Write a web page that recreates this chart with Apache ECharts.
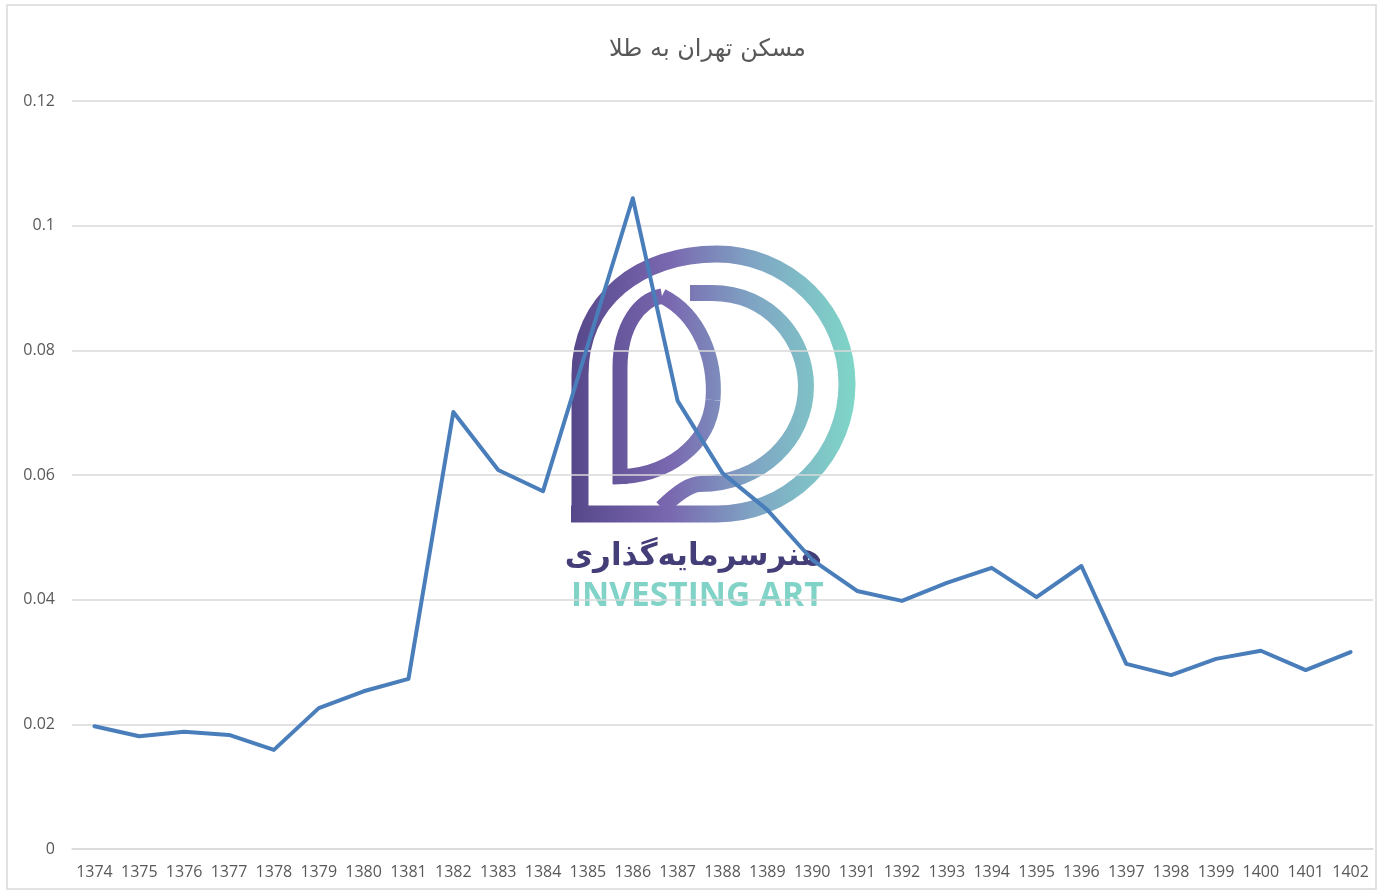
<!DOCTYPE html>
<html lang="fa">
<head>
  <meta charset="UTF-8">
  <title>مسکن تهران به طلا</title>
  <style>
    html, body { margin: 0; padding: 0; background: #fff; }
    #chart { width: 1379px; height: 892px; }
  </style>
  <script src="https://cdn.jsdelivr.net/npm/echarts@6/dist/echarts.min.js"></script>
</head>
<body>
  <div id="chart"></div>
  <script>
    // years (solar hijri) and ratio of Tehran housing price to gold
    const years = ['1374', '1375', '1376', '1377', '1378', '1379', '1380', '1381', '1382', '1383',
      '1384', '1385', '1386', '1387', '1388', '1389', '1390', '1391', '1392', '1393',
      '1394', '1395', '1396', '1397', '1398', '1399', '1400', '1401', '1402'];
    const ratio = [0.0197, 0.0181, 0.0188, 0.0183, 0.0159, 0.0226, 0.0253, 0.0273, 0.0701, 0.0608,
      0.0574, 0.0809, 0.1044, 0.0719, 0.0603, 0.0544, 0.0464, 0.0414, 0.0398, 0.0427,
      0.0451, 0.0404, 0.0454, 0.0297, 0.0279, 0.0305, 0.0318, 0.0287, 0.0316];
    const yTicks = [0, 0.02, 0.04, 0.06, 0.08, 0.1, 0.12];

    const chart = echarts.init(document.getElementById('chart'));

    // watermark logo gradient, in page coordinates so all pieces share it
    const logoGrad = {
      type: 'linear', x: 571, y: 0, x2: 855, y2: 0, global: true,
      colorStops: [
        { offset: 0, color: '#56478a' },
        { offset: 0.35, color: '#7a68b0' },
        { offset: 0.65, color: '#7fa6c4' },
        { offset: 1, color: '#7fd6c8' }
      ]
    };
    const stroke = w => ({ fill: null, stroke: logoGrad, lineWidth: w });
    const seg = (x1, y1, x2, y2, w) => ({ type: 'line', shape: { x1, y1, x2, y2 }, style: stroke(w) });
    const curve = (x1, y1, cpx1, cpy1, cpx2, cpy2, x2, y2, w) =>
      ({ type: 'bezierCurve', shape: { x1, y1, cpx1, cpy1, cpx2, cpy2, x2, y2 }, style: stroke(w) });

    const option = {
      backgroundColor: '#fff',
      title: {
        text: 'مسکن تهران به طلا',
        left: 604,
        top: 33,
        textStyle: { color: '#595959', fontSize: 24, fontWeight: 'normal', fontFamily: 'DejaVu Sans' }
      },
      grid: { left: 72, right: 6, top: 101, bottom: 43 },
      xAxis: {
        type: 'category',
        data: years,
        boundaryGap: true,
        axisLine: { show: true, lineStyle: { color: '#d9d9d9', width: 1.5 } },
        axisTick: { show: false },
        axisLabel: { color: '#595959', fontSize: 16, fontFamily: 'Open Sans', margin: 15, interval: 0 }
      },
      yAxis: {
        type: 'value',
        min: 0,
        max: 0.12,
        interval: 0.02,
        axisLine: { show: false },
        axisTick: { show: false },
        axisLabel: {
          color: '#595959', fontSize: 16, fontFamily: 'Open Sans', margin: 17,
          formatter: v => {
            const t = yTicks.find(k => Math.abs(k - v) < 1e-9);
            return String(t !== undefined ? t : v);
          }
        },
        splitLine: { lineStyle: { color: '#d9d9d9', width: 1.5 } }
      },
      series: [{
        type: 'line',
        data: ratio,
        symbol: 'none',
        z: 5,
        lineStyle: { color: '#4a7ebb', width: 4, join: 'round', cap: 'round' }
      }],
      graphic: [
        {
          type: 'rect', silent: true, z: -20,
          shape: { x: 7, y: 5, width: 1369, height: 884 },
          style: { fill: null, stroke: '#d9d9d9', lineWidth: 1.5 }
        },
        {
          type: 'group', silent: true, z: -10,
          children: [
            // outer dome + big ring
            seg(580, 522, 580, 375, 17),
            curve(580, 375, 580, 300, 640, 254, 717, 254, 17),
            {
              type: 'arc',
              shape: { cx: 717, cy: 384, r: 130, startAngle: -Math.PI / 2, endAngle: Math.PI / 2, clockwise: true },
              style: stroke(17)
            },
            seg(717, 514, 571, 514, 17),
            // inner left teardrop
            seg(620, 484, 620, 368, 15),
            curve(620, 368, 620, 325, 640, 300, 662, 296, 15),
            curve(662, 296, 700, 315, 716, 360, 713, 400, 15),
            curve(713, 400, 709, 445, 668, 477, 613, 477, 15),
            // middle arc
            seg(690, 293, 712, 293, 16),
            curve(712, 293, 770, 293, 806, 340, 806, 386, 16),
            curve(806, 386, 806, 440, 760, 484, 700, 484, 16),
            curve(700, 484, 690, 484, 675, 495, 662, 508, 16),
            {
              type: 'text',
              style: {
                x: 822, y: 557, text: 'هنرسرمایه‌گذاری', align: 'right', verticalAlign: 'middle',
                fill: '#433d78', fontSize: 31, fontWeight: 'bold', fontFamily: 'DejaVu Sans'
              }
            },
            {
              type: 'text',
              style: {
                x: 571, y: 596, text: 'INVESTING ART', align: 'left', verticalAlign: 'middle',
                fill: '#82d3c7', fontSize: 33.5, fontWeight: 'bold', fontFamily: 'Open Sans'
              }
            }
          ]
        }
      ]
    };

    chart.setOption(option);
  </script>
</body>
</html>
